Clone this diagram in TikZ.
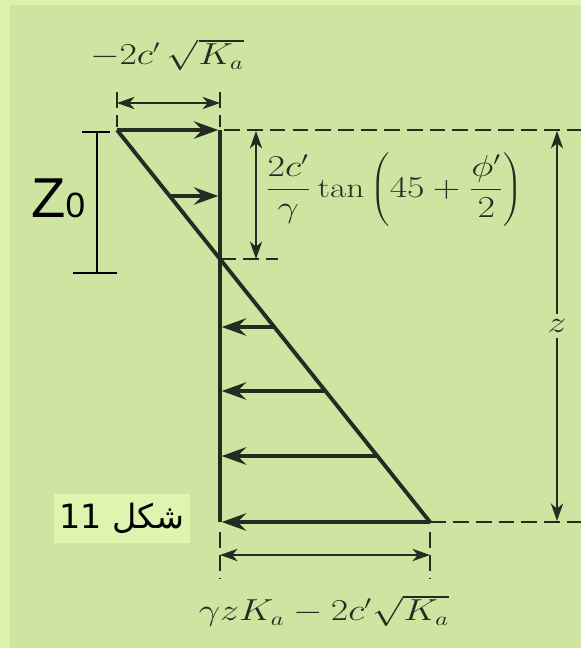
\documentclass[tikz,border=0pt]{standalone}
\usepackage{fontspec}
\usepackage{graphicx}
\usetikzlibrary{arrows.meta}
\newfontfamily\labelfont{Liberation Sans}
\newfontfamily\arabicfont[Script=Arabic]{DejaVu Sans}
\TeXXeTstate=1
\definecolor{edgegreen}{HTML}{DAF2AA}
\definecolor{panelgreen}{HTML}{CDE5A0}
\definecolor{boxgreen}{HTML}{DDF5AE}
\definecolor{ink}{HTML}{252B22}
\newcommand{\widemath}[1]{\scalebox{1.25}[1]{$#1$}}

\begin{document}
\begin{tikzpicture}[x=0.02cm, y=-0.02cm,
    wall/.style={ink, line width=2.2pt},
    load/.style={ink, line width=2pt, -{Stealth[length=14pt, width=10pt, inset=5pt]}},
    dim/.style={ink, line width=1pt, {Stealth[length=10pt, width=7pt, inset=3pt]}-{Stealth[length=10pt, width=7pt, inset=3pt]}},
    guide/.style={ink, line width=1pt, dash pattern=on 9pt off 4pt},
    lbl/.style={ink, inner sep=1pt, font=\fontsize{16}{18}\selectfont}]
    % background
    \fill[edgegreen] (0,0) rectangle (581,648);
    \fill[panelgreen] (10,5) rectangle (581,648);
    \useasboundingbox (0,0) rectangle (581,648);

    % wall and pressure diagram
    \coordinate (top) at (117,130);
    \coordinate (wtop) at (220,130);
    \coordinate (wbot) at (220,522);
    \coordinate (toe) at (430,522);
    \coordinate (cross) at (220,259);
    \draw[wall] (wtop) -- (wbot);
    \draw[wall] (top) -- (toe);

    % tension zone arrows
    \coordinate (q1) at (170,196);
    \draw[load, shorten >=1pt] (top) -- (wtop);
    \draw[load, shorten >=1pt] (q1) -- (q1 -| wtop);

    % active pressure arrows
    \coordinate (q2) at (274,327);
    \coordinate (q3) at (325,391);
    \coordinate (q4) at (377,456);
    \draw[load, shorten >=1pt] (q2) -- (q2 -| wtop);
    \draw[load, shorten >=1pt] (q3) -- (q3 -| wtop);
    \draw[load, shorten >=1pt] (q4) -- (q4 -| wtop);
    \draw[load, shorten >=1pt] (toe) -- (wbot);

    % dashed guide lines
    \coordinate (rtop) at (581,130);
    \coordinate (rbot) at (581,522);
    \coordinate (ctip) at (278,259);
    \draw[guide] (224,130) -- (rtop);
    \draw[guide] (toe) -- (rbot);
    \draw[guide] (cross) -- (ctip);

    % depth z
    \coordinate (za) at (557,131);
    \coordinate (zb) at (557,521);
    \draw[dim] (za) -- node[lbl, fill=panelgreen, inner sep=3pt] (zlbl) {\widemath{z}} (zb);

    % depth of tension crack
    \coordinate (ha) at (256,131);
    \coordinate (hb) at (256,259);
    \draw[dim] (ha) -- (hb);
    \node[lbl] (tanlbl) at (394,190) {\widemath{\displaystyle\frac{2c'}{\gamma}\tan\left(\vrule height 26pt depth 18pt width 0pt 45+\frac{\phi'}{2}\right)}};

    % top dimension
    \coordinate (ta) at (117,92);
    \coordinate (tb) at (220,92);
    \coordinate (da) at (117,103);
    \coordinate (db) at (220,103);
    \draw[guide] (ta) -- (117,127);
    \draw[guide] (tb) -- (220,127);
    \draw[dim] (da) -- (db);
    \node[lbl] (toplbl) at (167,55) {\widemath{-2c'\,\sqrt{K_a}}};

    % bottom dimension
    \coordinate (ba) at (220,532);
    \coordinate (bb) at (430,532);
    \coordinate (ea) at (220,555);
    \coordinate (eb) at (430,555);
    \draw[guide] (ba) -- (220,578);
    \draw[guide] (bb) -- (430,578);
    \draw[dim] (ea) -- (eb);
    \node[lbl] (botlbl) at (324,611) {\widemath{\gamma zK_a-2c'\sqrt{K_a}}};

    % Z0 marker
    \coordinate (z0a) at (97,132);
    \coordinate (z0b) at (97,273);
    \draw[black, line width=0.9pt] (z0a) -- (z0b);
    \draw[black, line width=0.9pt] (82,132) -- (110,132);
    \draw[black, line width=0.9pt] (73,273) -- (117,273);
    \node[anchor=base west, inner sep=0pt] (z0lbl) at (31,218) {\labelfont\fontsize{32}{32}\selectfont Z{\fontsize{20}{20}\selectfont 0}};

    % figure number
    \node[fill=boxgreen, minimum width=2.7cm, minimum height=0.98cm, font=\fontsize{19}{22}\selectfont] (fig) at (122,518) {\arabicfont\beginR شكل 11\endR};
\end{tikzpicture}
\end{document}
